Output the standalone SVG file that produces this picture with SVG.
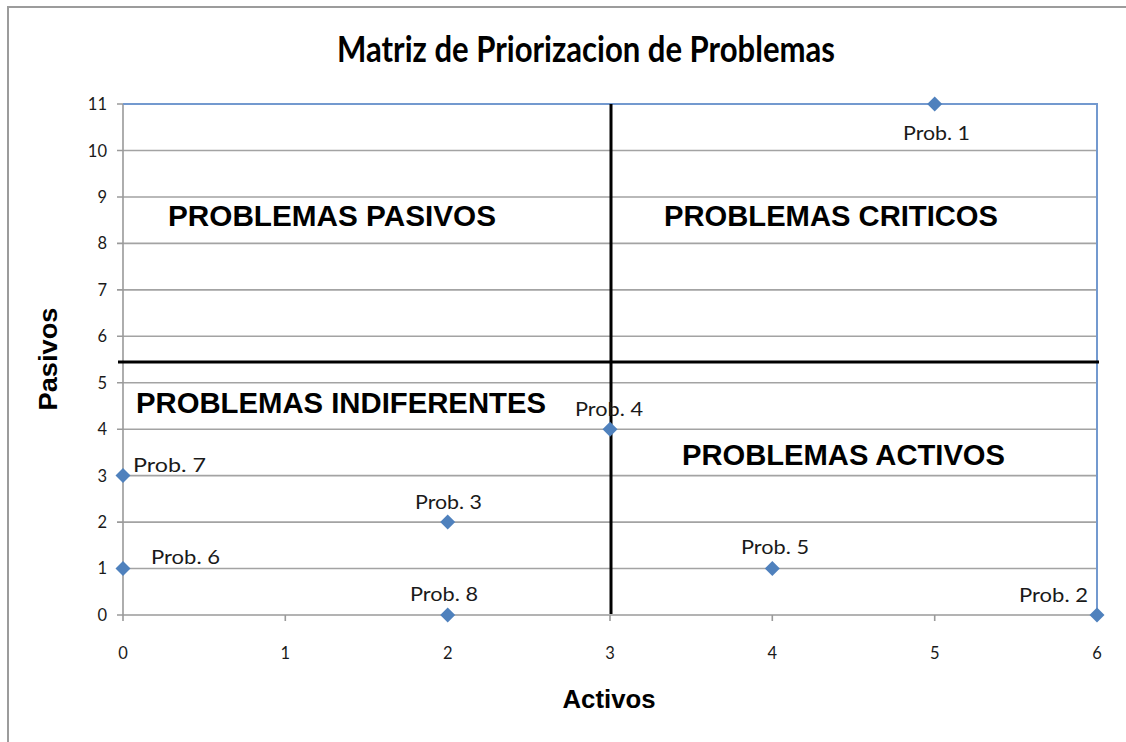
<svg xmlns="http://www.w3.org/2000/svg" width="1126" height="742" viewBox="0 0 1126 742">
<style>
.grid{stroke:#a3a3a3;stroke-width:1.6;fill:none}
.blue{stroke:#7399cf;stroke-width:2;fill:none}
.axis{stroke:#9a9a9a;stroke-width:1.6;fill:none}
.div{stroke:#000;stroke-width:3;fill:none}
.tick{font-family:Lato,"Liberation Sans",sans-serif;font-size:16.5px;fill:#1a1a1a}
.lbl{font-family:Lato,"Liberation Sans",sans-serif;font-size:20px;fill:#1a1a1a}
.quad{font-family:"Liberation Sans",Arial,sans-serif;font-size:29px;font-weight:bold;fill:#000}
.axt{font-family:"Liberation Sans",Arial,sans-serif;font-size:26px;font-weight:bold;fill:#000}
.mk{fill:#4f81bd}
</style>
<defs>
<path id="dia" d="M0,-7.5 L7.5,0 L0,7.5 L-7.5,0 Z"/>
</defs>
<rect x="0" y="0" width="1126" height="742" fill="#fff"/>
<path d="M8,745 L8,7 L1130,7" stroke="#9c9c9c" stroke-width="2" fill="none"/>
<text x="586" y="62" text-anchor="middle" textLength="498" lengthAdjust="spacingAndGlyphs" style="font-family:Lato,'Liberation Sans',sans-serif;font-size:37px;font-weight:bold;fill:#000">Matriz de Priorizacion de Problemas</text>
<g id="grid">
<path class="grid" d="M123,150.5H1097M123,197H1097M123,243.4H1097M123,289.9H1097M123,336.3H1097M123,382.8H1097M123,429.2H1097M123,475.6H1097M123,522.1H1097M123,568.5H1097"/>
<path class="axis" d="M123,104V621M117,104H123M117,150.5H123M117,197H123M117,243.4H123M117,289.9H123M117,336.3H123M117,382.8H123M117,429.2H123M117,475.6H123M117,522.1H123M117,568.5H123M117,615H1097M285.3,615V621M447.7,615V621M610,615V621M772.3,615V621M934.7,615V621M1097,615V621"/>
<path class="blue" d="M123,104H1097V615"/>
</g>
<g id="ytick" class="tick" text-anchor="end">
<text x="107" y="110">11</text><text x="107" y="156.5">10</text><text x="107" y="203">9</text><text x="107" y="249">8</text><text x="107" y="296">7</text><text x="107" y="342">6</text><text x="107" y="389">5</text><text x="107" y="435">4</text><text x="107" y="482">3</text><text x="107" y="528">2</text><text x="107" y="574">1</text><text x="107" y="621">0</text>
</g>
<g id="xtick" class="tick" text-anchor="middle">
<text x="123" y="659">0</text><text x="285.3" y="659">1</text><text x="447.7" y="659">2</text><text x="610" y="659">3</text><text x="772.3" y="659">4</text><text x="934.7" y="659">5</text><text x="1097" y="659">6</text>
</g>
<g id="connectors">
<path class="div" d="M611,104V614"/>
<path class="div" d="M118,362H1099"/>
</g>
<g id="q-pasivos"><text class="quad" x="168" y="226" textLength="328" lengthAdjust="spacingAndGlyphs">PROBLEMAS PASIVOS</text></g>
<g id="q-criticos"><text class="quad" x="664" y="226" textLength="334" lengthAdjust="spacingAndGlyphs">PROBLEMAS CRITICOS</text></g>
<g id="q-indiferentes"><text class="quad" x="136" y="413" textLength="410" lengthAdjust="spacingAndGlyphs">PROBLEMAS INDIFERENTES</text></g>
<g id="q-activos"><text class="quad" x="682" y="465" textLength="323" lengthAdjust="spacingAndGlyphs">PROBLEMAS ACTIVOS</text></g>
<g id="p1"><use href="#dia" class="mk" x="934.7" y="104"/><text class="lbl" x="903" y="140" textLength="67" lengthAdjust="spacingAndGlyphs">Prob. 1</text></g>
<g id="p2"><use href="#dia" class="mk" x="1097" y="615"/><text class="lbl" x="1019" y="602" textLength="69" lengthAdjust="spacingAndGlyphs">Prob. 2</text></g>
<g id="p3"><use href="#dia" class="mk" x="447.7" y="522.1"/><text class="lbl" x="415" y="509" textLength="67" lengthAdjust="spacingAndGlyphs">Prob. 3</text></g>
<g id="p4"><use href="#dia" class="mk" x="610" y="429.2"/><text class="lbl" x="575" y="416" textLength="68" lengthAdjust="spacingAndGlyphs">Prob. 4</text></g>
<g id="p5"><use href="#dia" class="mk" x="772.3" y="568.5"/><text class="lbl" x="741" y="554" textLength="68" lengthAdjust="spacingAndGlyphs">Prob. 5</text></g>
<g id="p6"><use href="#dia" class="mk" x="123" y="568.5"/><text class="lbl" x="151" y="564" textLength="69" lengthAdjust="spacingAndGlyphs">Prob. 6</text></g>
<g id="p7"><use href="#dia" class="mk" x="123" y="475.6"/><text class="lbl" x="133" y="472" textLength="73" lengthAdjust="spacingAndGlyphs">Prob. 7</text></g>
<g id="p8"><use href="#dia" class="mk" x="447.7" y="615"/><text class="lbl" x="410" y="601" textLength="68" lengthAdjust="spacingAndGlyphs">Prob. 8</text></g>
<text class="axt" x="609" y="708" text-anchor="middle" textLength="93" lengthAdjust="spacingAndGlyphs">Activos</text>
<text class="axt" transform="translate(57,359) rotate(-90)" text-anchor="middle" textLength="103" lengthAdjust="spacingAndGlyphs">Pasivos</text>
</svg>
